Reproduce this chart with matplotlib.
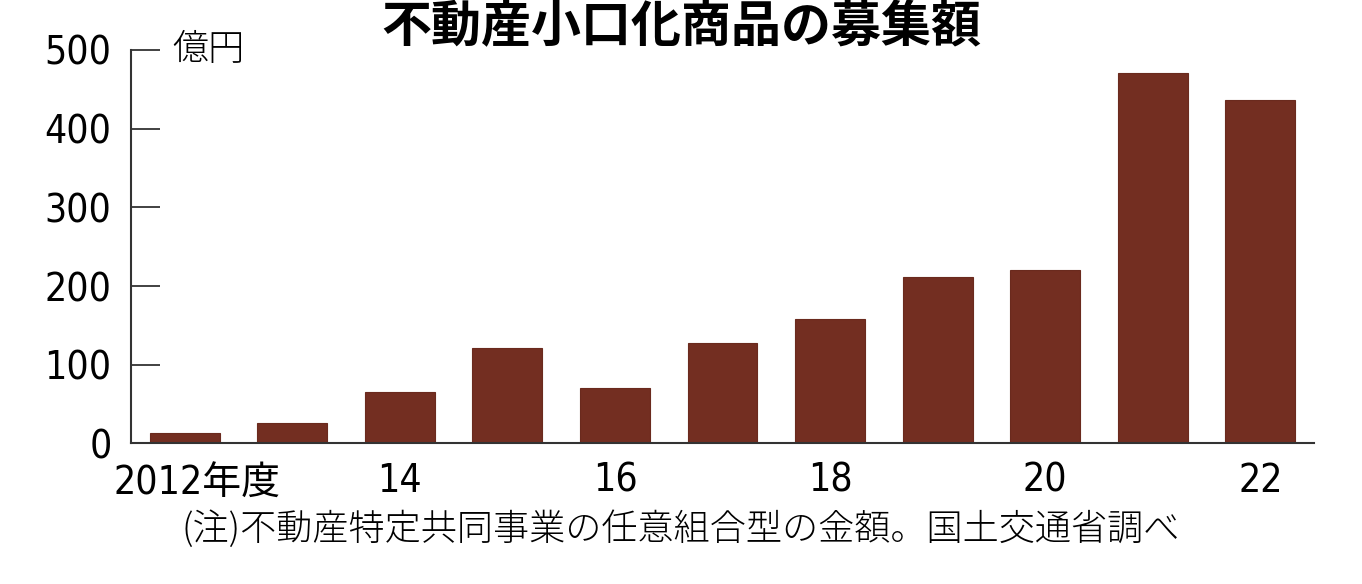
import matplotlib
matplotlib.use("Agg")
import matplotlib.pyplot as plt

plt.rcParams['font.family'] = ['DejaVu Sans', 'Noto Sans CJK JP']
plt.rcParams['font.stretch'] = 'condensed'

# data (億円)
years = [2012, 2013, 2014, 2015, 2016, 2017, 2018, 2019, 2020, 2021, 2022]
amounts = [13, 26, 65, 121, 70, 128, 158, 211, 221, 471, 437]
tick_years = [2012, 2014, 2016, 2018, 2020, 2022]
tick_labels = ['2012年度', '14', '16', '18', '20', '22']
y_ticks = [0, 100, 200, 300, 400, 500]

title = '不動産小口化商品の募集額'
unit = '億円'
note = '(注)不動産特定共同事業の任意組合型の金額。国土交通省調べ'

fig = plt.figure(figsize=(13.62, 5.84), dpi=100)
ax = fig.add_axes([0.0962, 0.2406, 0.8686, 0.6738])

ax.bar(years, amounts, width=0.65, color='#732e21', edgecolor='#6a2a1e', linewidth=0.8)

ax.set_xlim(2011.5, 2022.5)
ax.set_ylim(0, 500)
ax.set_yticks(y_ticks)
ax.set_yticklabels([str(v) for v in y_ticks], fontsize=28)
ax.set_xticks(tick_years)
# first label sits a little right of its bar, drawn separately below
ax.set_xticklabels([''] + tick_labels[1:], fontsize=28)
ax.annotate(tick_labels[0], xy=(tick_years[0], 0), xycoords=('data', 'axes fraction'),
            xytext=(9, -15), textcoords='offset points', ha='center', va='top', fontsize=28)

for s in ['top', 'right']:
    ax.spines[s].set_visible(False)
for s in ['left', 'bottom']:
    ax.spines[s].set_color('#333333')
    ax.spines[s].set_linewidth(1.5)

ax.tick_params(axis='y', direction='in', length=21, width=1.3, color='#333333', pad=14)
ax.tick_params(axis='x', length=0, pad=13)

ax.text(0.0347, 1.0, unit, transform=ax.transAxes, fontsize=26, va='center', ha='left',
        family=['Noto Sans CJK JP'], fontweight='light')

fig.text(0.5, 0.952, title, fontsize=36, fontweight='bold', ha='center', va='center',
         family=['Noto Sans CJK JP', 'DejaVu Sans'])
fig.text(0.5, 0.093, note, fontsize=26, ha='center', va='center',
         family=['Noto Sans CJK JP', 'DejaVu Sans'], fontweight='light')

fig.savefig('out.png', dpi=100)
